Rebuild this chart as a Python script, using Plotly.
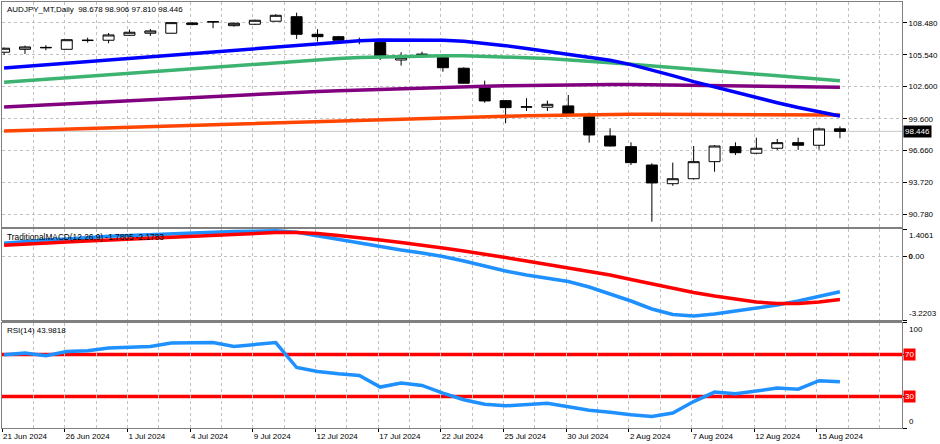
import plotly.graph_objects as go

# ---------------- data ----------------
dates = ["2024-06-21", "2024-06-24", "2024-06-25", "2024-06-26", "2024-06-27", "2024-06-28",
         "2024-07-01", "2024-07-02", "2024-07-03", "2024-07-04", "2024-07-05",
         "2024-07-08", "2024-07-09", "2024-07-10", "2024-07-11", "2024-07-12",
         "2024-07-15", "2024-07-16", "2024-07-17", "2024-07-18", "2024-07-19",
         "2024-07-22", "2024-07-23", "2024-07-24", "2024-07-25", "2024-07-26",
         "2024-07-29", "2024-07-30", "2024-07-31", "2024-08-01", "2024-08-02",
         "2024-08-05", "2024-08-06", "2024-08-07", "2024-08-08", "2024-08-09",
         "2024-08-12", "2024-08-13", "2024-08-14", "2024-08-15", "2024-08-16"]

open_ = [105.77, 106.04, 106.22, 106.04, 106.85, 106.88, 107.34, 107.53, 107.53, 108.33, 108.60,
         108.23, 108.36, 108.64, 109.06, 107.43, 107.21, 106.82, 106.66, 105.05, 105.56,
         105.30, 104.29, 102.58, 101.29, 100.68, 100.68, 100.80, 99.80, 98.02, 97.03,
         95.33, 93.60, 94.06, 95.64, 97.03, 96.42, 96.88, 97.40, 97.16, 98.678]
high = [106.20, 106.38, 106.42, 106.95, 107.12, 107.55, 107.86, 107.92, 108.57, 108.57, 108.64,
        108.54, 108.79, 109.29, 109.43, 107.90, 107.28, 107.12, 106.70, 105.77, 105.82,
        105.35, 104.38, 103.14, 101.33, 101.51, 101.29, 101.81, 100.17, 98.73, 97.43,
        95.49, 95.55, 97.09, 97.18, 97.43, 97.86, 97.74, 97.86, 98.79, 98.906]
low = [105.52, 105.61, 105.95, 106.00, 106.66, 106.60, 107.28, 107.28, 107.50, 108.27, 107.99,
       108.14, 108.29, 108.62, 107.00, 106.75, 106.85, 106.51, 105.05, 104.53, 105.36,
       103.97, 102.85, 101.10, 99.19, 100.33, 100.33, 100.00, 97.40, 97.05, 95.33,
       90.08, 93.41, 93.98, 94.71, 96.26, 96.32, 96.72, 96.72, 96.75, 97.810]
close = [106.14, 106.26, 106.19, 106.93, 106.88, 107.37, 107.62, 107.74, 108.51, 108.48, 108.58,
         108.45, 108.73, 109.19, 107.43, 107.21, 106.88, 106.80, 105.45, 105.27, 105.58,
         104.34, 102.90, 101.26, 100.64, 100.72, 100.95, 100.05, 98.11, 97.09, 95.55,
         93.67, 94.06, 95.64, 97.09, 96.47, 96.88, 97.40, 97.16, 98.67, 98.446]

ma_blue = [104.31, 104.46, 104.61, 104.76, 104.91, 105.06, 105.21, 105.36, 105.50, 105.65, 105.80,
           105.94, 106.08, 106.25, 106.42, 106.58, 106.72, 106.83, 106.90, 106.92, 106.92,
           106.88, 106.78, 106.60, 106.38, 106.12, 105.85, 105.60, 105.35, 105.02, 104.62,
           104.15, 103.60, 103.05, 102.55, 102.05, 101.55, 101.10, 100.65, 100.25, 99.87]
ma_green = [103.00, 103.14, 103.28, 103.42, 103.56, 103.70, 103.84, 103.98, 104.12, 104.26, 104.40,
            104.54, 104.68, 104.83, 104.97, 105.10, 105.20, 105.28, 105.34, 105.39, 105.43,
            105.45, 105.44, 105.40, 105.33, 105.27, 105.18, 105.07, 104.95, 104.80, 104.65,
            104.50, 104.34, 104.18, 104.04, 103.90, 103.75, 103.60, 103.45, 103.30, 103.14]
ma_purple = [100.70, 100.80, 100.90, 101.00, 101.10, 101.20, 101.30, 101.40, 101.50, 101.60, 101.70,
             101.79, 101.88, 101.97, 102.06, 102.14, 102.21, 102.28, 102.35, 102.41, 102.47,
             102.53, 102.58, 102.63, 102.67, 102.71, 102.74, 102.77, 102.79, 102.79, 102.78,
             102.76, 102.73, 102.70, 102.67, 102.64, 102.61, 102.59, 102.57, 102.55, 102.53]
ma_orange = [98.48, 98.54, 98.60, 98.66, 98.72, 98.78, 98.84, 98.90, 98.96, 99.02, 99.08,
             99.14, 99.20, 99.26, 99.32, 99.38, 99.44, 99.50, 99.55, 99.60, 99.65,
             99.70, 99.75, 99.80, 99.85, 99.89, 99.93, 99.97, 100.00, 100.02, 100.03,
             100.03, 100.03, 100.02, 100.02, 100.01, 100.00, 99.99, 99.98, 99.97, 99.96]

macd_main = [0.684, 0.771, 0.847, 0.898, 0.974, 1.035, 1.076, 1.127, 1.162, 1.203, 1.243,
             1.279, 1.305, 1.315, 1.238, 1.050, 0.872, 0.694, 0.516, 0.338, 0.186,
             0.008, -0.221, -0.475, -0.729, -0.933, -1.085, -1.263, -1.543, -1.899, -2.254,
             -2.661, -2.941, -3.017, -2.915, -2.763, -2.610, -2.458, -2.254, -2.000, -1.7805]
macd_signal = [0.577, 0.643, 0.694, 0.745, 0.796, 0.847, 0.898, 0.948, 0.999, 1.050, 1.101,
               1.152, 1.203, 1.228, 1.228, 1.177, 1.076, 0.974, 0.847, 0.720, 0.593,
               0.440, 0.288, 0.135, -0.043, -0.221, -0.399, -0.577, -0.755, -0.933, -1.161,
               -1.390, -1.619, -1.822, -2.000, -2.153, -2.305, -2.382, -2.382, -2.305, -2.1783]

rsi = [69.7, 71.3, 68.8, 72.9, 73.5, 76.1, 77.0, 77.6, 80.9, 80.9, 81.4,
       77.6, 79.9, 81.4, 57.6, 53.8, 51.6, 50.0, 39.0, 42.8, 40.5,
       33.2, 26.9, 22.6, 21.1, 22.1, 23.5, 20.2, 17.0, 15.1, 12.6,
       11.0, 14.2, 25.2, 34.2, 32.6, 35.7, 38.0, 37.0, 45.0, 43.9818]

tick_dates = ["2024-06-21", "2024-06-26", "2024-07-01", "2024-07-04", "2024-07-09", "2024-07-12",
              "2024-07-17", "2024-07-22", "2024-07-25", "2024-07-30", "2024-08-02", "2024-08-07",
              "2024-08-12", "2024-08-15"]
tick_labels = ["21 Jun 2024", "26 Jun 2024", "1 Jul 2024", "4 Jul 2024", "9 Jul 2024", "12 Jul 2024",
               "17 Jul 2024", "22 Jul 2024", "25 Jul 2024", "30 Jul 2024", "2 Aug 2024", "7 Aug 2024",
               "12 Aug 2024", "15 Aug 2024"]

price_ticks = [90.78, 93.72, 96.66, 99.60, 102.60, 105.54, 108.48]
price_range = [89.59, 110.42]
macd_range = [-3.2203, 1.4061]
rsi_levels = [30, 70]
bid = close[-1]

# ---------------- figure ----------------
FONT = "Liberation Sans"
x = list(range(len(dates)))
fig = go.Figure()

fig.add_trace(go.Candlestick(
    x=x, open=open_, high=high, low=low, close=close, xaxis="x", yaxis="y",
    increasing=dict(line=dict(color="black", width=1), fillcolor="white"),
    decreasing=dict(line=dict(color="black", width=1), fillcolor="black"),
    whiskerwidth=0, showlegend=False, hoverinfo="skip"))

for series, col in [(ma_orange, "#FF4500"), (ma_purple, "#800080"),
                    (ma_green, "#3CB371"), (ma_blue, "#0000FF")]:
    fig.add_trace(go.Scatter(x=x, y=series, mode="lines", xaxis="x", yaxis="y",
                             line=dict(color=col, width=3.5), showlegend=False, hoverinfo="skip"))

fig.add_trace(go.Scatter(x=x, y=macd_main, mode="lines", xaxis="x2", yaxis="y2",
                         line=dict(color="#1E90FF", width=3.5), showlegend=False, hoverinfo="skip"))
fig.add_trace(go.Scatter(x=x, y=macd_signal, mode="lines", xaxis="x2", yaxis="y2",
                         line=dict(color="#FF0000", width=3.5), showlegend=False, hoverinfo="skip"))
fig.add_trace(go.Scatter(x=x, y=rsi, mode="lines", xaxis="x3", yaxis="y3",
                         line=dict(color="#1E90FF", width=3.5), showlegend=False, hoverinfo="skip"))

tickvals = [dates.index(d) - 0.1 for d in tick_dates]
xrange_ = [-0.1, 42.97]
grid = dict(showgrid=True, gridcolor="#c0c0c0", griddash="dot", gridwidth=1)
minor = dict(tickmode="linear", tick0=-0.1, dtick=1.5, showgrid=True,
             gridcolor="#c0c0c0", griddash="dot", gridwidth=1, ticks="")
frame = dict(showline=True, linecolor="#808080", linewidth=1, mirror=True)

common_x = dict(range=xrange_, tickmode="array", tickvals=tickvals, zeroline=False,
                minor=minor, **grid, **frame)

fig.update_layout(
    width=940, height=444,
    margin=dict(l=2, r=38, t=2, b=16),
    paper_bgcolor="white", plot_bgcolor="white",
    font=dict(family=FONT, size=8, color="black"),
    boxgap=0.25,
    xaxis=dict(anchor="y", domain=[0, 1], showticklabels=False, ticks="",
               rangeslider=dict(visible=False), **common_x),
    xaxis2=dict(anchor="y2", domain=[0, 1], showticklabels=False, ticks="", matches="x", **common_x),
    xaxis3=dict(anchor="y3", domain=[0, 1], showticklabels=True, ticktext=tick_labels,
                ticks="outside", ticklen=3, tickcolor="black",
                ticklabelposition="outside right", matches="x",
                tickfont=dict(family=FONT, size=8, color="black"), **common_x),
    yaxis=dict(anchor="x", domain=[0.4718, 1], side="right", range=price_range,
               tickmode="array", tickvals=price_ticks, ticktext=[f"{v:.3f}" for v in price_ticks],
               ticks="outside", ticklen=4, tickcolor="black", zeroline=False,
               tickfont=dict(family=FONT, size=8, color="black"), **grid, **frame),
    yaxis2=dict(anchor="x2", domain=[0.2535, 0.4671], side="right", range=macd_range,
                tickmode="array", tickvals=[macd_range[1], 0, macd_range[0]],
                ticktext=["", "<b>0</b>.00", ""],
                ticks="outside", ticklen=4, tickcolor="black", zeroline=False,
                tickfont=dict(family=FONT, size=8, color="black"), **grid, **frame),
    yaxis3=dict(anchor="x3", domain=[0, 0.2465], side="right", range=[0, 100],
                tickmode="array", tickvals=[0, 30, 70, 100], ticktext=["", "", "", ""],
                ticks="outside", ticklen=4, tickcolor="black", zeroline=False,
                showgrid=False, **frame),
)

shapes = []
# bid line
shapes.append(dict(type="line", xref="x domain", yref="y", x0=0, x1=1, y0=bid, y1=bid,
                   line=dict(color="#c8c8c8", width=1), layer="below"))
# RSI levels
for lv in rsi_levels:
    shapes.append(dict(type="line", xref="x3 domain", yref="y3", x0=0, x1=1, y0=lv, y1=lv,
                       line=dict(color="#FF0000", width=3.5), layer="below"))
# panel separators
for y0, y1 in [(0.4671, 0.4718), (0.2465, 0.2535)]:
    shapes.append(dict(type="rect", xref="paper", yref="paper", x0=0, x1=1, y0=y0, y1=y1,
                       fillcolor="#808080", line=dict(width=0)))
fig.update_layout(shapes=shapes)

ann = []
ann.append(dict(xref="x domain", yref="y domain", x=0.003, y=1, xanchor="left", yanchor="top",
                yshift=-1, text="AUDJPY_MT,Daily  %.3f %.3f %.3f %.3f" % (open_[-1], high[-1], low[-1], close[-1]),
                showarrow=False, font=dict(family=FONT, size=8, color="black")))
ann.append(dict(xref="x2 domain", yref="y2 domain", x=0.003, y=1, xanchor="left", yanchor="top",
                yshift=-1, text="TraditionalMACD(12,26,9) %.4f %.4f" % (macd_main[-1], macd_signal[-1]),
                showarrow=False, font=dict(family=FONT, size=8.3, color="black")))
ann.append(dict(xref="x3 domain", yref="y3 domain", x=0.003, y=1, xanchor="left", yanchor="top",
                yshift=-1, text="RSI(14) %.4f" % rsi[-1],
                showarrow=False, font=dict(family=FONT, size=8, color="black")))
# bid price tag
ann.append(dict(xref="paper", yref="y", x=1, y=bid, xanchor="left", yanchor="middle", xshift=1,
                text="%.3f" % bid, showarrow=False, bgcolor="black", borderpad=1,
                font=dict(family=FONT, size=8, color="white")))
# MACD edge labels
ann.append(dict(xref="paper", yref="y2", x=1, y=macd_range[1], xanchor="left", yanchor="top", xshift=5,
                text="%.4f" % macd_range[1], showarrow=False, font=dict(family=FONT, size=8, color="black")))
ann.append(dict(xref="paper", yref="y2", x=1, y=macd_range[0], xanchor="left", yanchor="bottom", xshift=5,
                text="%.4f" % macd_range[0], showarrow=False, font=dict(family=FONT, size=8, color="black")))
# RSI labels
ann.append(dict(xref="paper", yref="y3", x=1, y=100, xanchor="left", yanchor="top", xshift=5,
                text="100", showarrow=False, font=dict(family=FONT, size=8, color="black")))
ann.append(dict(xref="paper", yref="y3", x=1, y=0, xanchor="left", yanchor="bottom", xshift=5,
                text="0", showarrow=False, font=dict(family=FONT, size=8, color="black")))
for lv in rsi_levels:
    ann.append(dict(xref="paper", yref="y3", x=1, y=lv, xanchor="left", yanchor="middle", xshift=1,
                    text=str(lv), showarrow=False, bgcolor="#FF0000", borderpad=1,
                    font=dict(family=FONT, size=8, color="white")))
fig.update_layout(annotations=ann)

fig.write_html("out.html")
